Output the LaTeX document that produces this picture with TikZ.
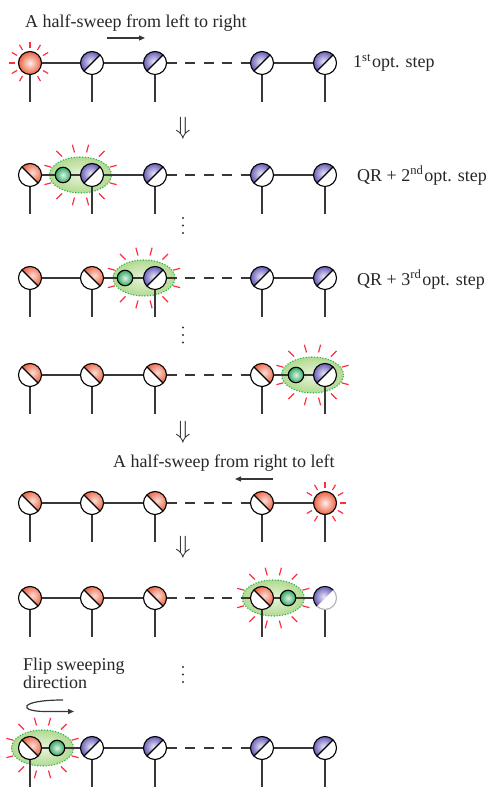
\documentclass[tikz,border=0pt]{standalone}
\usepackage{fontspec}
\setmainfont{Liberation Serif}
\usetikzlibrary{calc,arrows.meta}
\pgfdeclarelayer{bgA}\pgfdeclarelayer{bgB}
\pgfsetlayers{bgA,bgB,main}
\definecolor{orgC}{RGB}{236,98,64}
\definecolor{bluC}{RGB}{88,78,178}
\definecolor{grnC}{RGB}{50,168,98}
\definecolor{rayC}{RGB}{255,45,65}
\definecolor{lineC}{RGB}{55,55,55}
\definecolor{ellIn}{RGB}{232,244,220}
\definecolor{ellOut}{RGB}{178,218,145}
\definecolor{ellBd}{RGB}{40,178,80}
\newcommand\halfO{%
  \coordinate (pc) at (path picture bounding box.center);
  \begin{scope}
    \clip ($(pc)+(135:20)$) -- ++(45:20) -- ++(-45:40) -- ++(225:20) -- cycle;
    \shade[inner color=orgC!22!white, outer color=orgC] ($(pc)+(45:3.5)$) circle (11);
  \end{scope}
  \draw[line width=1.1pt] ($(pc)+(135:12)$) -- ($(pc)+(-45:12)$);
}
\newcommand\halfB{%
  \coordinate (pc) at (path picture bounding box.center);
  \begin{scope}
    \clip ($(pc)+(45:20)$) -- ++(135:20) -- ++(225:40) -- ++(315:20) -- cycle;
    \shade[inner color=bluC!14!white, outer color=bluC] ($(pc)+(135:2)$) circle (11.5);
  \end{scope}
}
\newcommand\sparkC[1]{%
  \begin{pgfonlayer}{bgA}
  \foreach \a in {0,30,...,330}{\draw[ray] ($(#1)+(\a:15)$) -- ($(#1)+(\a:21)$);}
  \end{pgfonlayer}}
\newcommand\sparkE[1]{%
  \begin{pgfonlayer}{bgA}
  \foreach \a in {15,45,...,345}{%
    \pgfmathsetmacro\rs{31*23/sqrt((23*cos(\a))^2+(31*sin(\a))^2)}%
    \pgfmathsetmacro\re{38*31/sqrt((31*cos(\a))^2+(38*sin(\a))^2)}%
    \draw[ray] ($(#1)+(\a:\rs)$) -- ($(#1)+(\a:\re)$);}
  \path[shade, inner color=ellIn, outer color=ellOut] (#1) ellipse (31 and 18);
  \draw[ellBd, line width=1.1pt, dash pattern=on 1.2pt off 1.6pt] (#1) ellipse (31 and 18);
  \end{pgfonlayer}}
\newcommand\vdotsAt[1]{%
  \foreach \d in {-7.5,0,7.5}{\fill[black!80] ($(#1)+(0,\d)$) circle (1.05);}}
\tikzset{
  site/.style={circle, draw=black, line width=1.1pt, minimum size=23pt, inner sep=0pt, outer sep=0pt, fill=white},
  osite/.style={site, path picture={\halfO}},
  bsite/.style={site, path picture={\halfB \draw[line width=1.1pt] ($(pc)+(45:12)$) -- ($(pc)+(225:12)$);}},
  fadesite/.style={site, draw=black!30, path picture={\halfB}},
  fsite/.style={circle, draw=black, line width=1.1pt, minimum size=23pt, inner sep=0pt, outer sep=0pt, shade, inner color=orgC!10!white, outer color=orgC},
  gsite/.style={circle, draw=black, line width=1.1pt, minimum size=15.5pt, inner sep=0pt, outer sep=0pt, shade, inner color=grnC!15!white, outer color=grnC},
  ray/.style={draw=rayC, line width=1.2pt},
  chain/.style={draw=lineC, line width=1.1pt},
  dline/.style={chain, dash pattern=on 10pt off 8.5pt},
  txt/.style={font=\fontsize{18}{21}\selectfont, inner sep=0pt, anchor=west, text=black!85},
  sym/.style={font=\fontsize{23}{25}\selectfont, inner sep=0pt, text=black!85},
  arr/.style={draw=lineC, line width=1.2pt, -{Triangle[length=6pt,width=5pt]}}
}
\newcommand\legs[1]{%
  \begin{pgfonlayer}{bgB}
  \foreach \n in {#1}{\draw[chain] (\n.south) -- ++(0,-27.5);}
  \end{pgfonlayer}}
\begin{document}
\begin{tikzpicture}[x=1pt,y=1pt]
\useasboundingbox (0,0) rectangle (491,797);
% ---------- Row 1
\node[txt] (t1) at (25,773.5) {A half-sweep from left to right};
\coordinate (r1s) at (107,759); \coordinate (r1e) at (145,759);
\draw[arr] (r1s) -- (r1e);
\sparkC{30,734}
\node[fsite] (a1) at (30,734) {};
\node[bsite] (a2) at (92,734) {};
\node[bsite] (a3) at (155,734) {};
\node[bsite] (a4) at (262,734) {};
\node[bsite] (a5) at (325,734) {};
\begin{pgfonlayer}{bgB}
\draw[chain] (a1) -- (a2) -- (a3); \draw[dline] (a3) -- (a4); \draw[chain] (a4) -- (a5);
\end{pgfonlayer}
\legs{a1,a2,a3,a4,a5}
\node[txt] (s1) at (353,734) {1\textsuperscript{st}\kern1pt opt. step};
\node[sym] (dn1) at (183,669) {$\Downarrow$};
% ---------- Row 2
\sparkE{80.5,622}
\node[osite] (b1) at (30,622) {};
\node[gsite] (bg) at (63,622) {};
\node[bsite] (b2) at (92,622) {};
\node[bsite] (b3) at (155,622) {};
\node[bsite] (b4) at (262,622) {};
\node[bsite] (b5) at (325,622) {};
\begin{pgfonlayer}{bgB}
\draw[chain] (b1) -- (bg) -- (b2) -- (b3); \draw[dline] (b3) -- (b4); \draw[chain] (b4) -- (b5);
\end{pgfonlayer}
\legs{b1,b2,b3,b4,b5}
\node[txt] (s2) at (357,621.5) {QR + 2\textsuperscript{nd}\kern1pt opt. step};
\coordinate (v1) at (183,571.5); \vdotsAt{v1}
% ---------- Row 3
\sparkE{144,519}
\node[osite] (c1) at (30,519) {};
\node[osite] (c2) at (92,519) {};
\node[gsite] (cg) at (125,519) {};
\node[bsite] (c3) at (155,519) {};
\node[bsite] (c4) at (262,519) {};
\node[bsite] (c5) at (325,519) {};
\begin{pgfonlayer}{bgB}
\draw[chain] (c1) -- (c2) -- (cg) -- (c3); \draw[dline] (c3) -- (c4); \draw[chain] (c4) -- (c5);
\end{pgfonlayer}
\legs{c1,c2,c3,c4,c5}
\node[txt] (s3) at (357,517.5) {QR + 3\textsuperscript{rd}\kern1pt opt. step};
\coordinate (v2) at (183,462); \vdotsAt{v2}
% ---------- Row 4
\sparkE{312.5,422}
\node[osite] (d1) at (30,422) {};
\node[osite] (d2) at (92,422) {};
\node[osite] (d3) at (155,422) {};
\node[osite] (d4) at (262,422) {};
\node[gsite] (dg) at (296,422) {};
\node[bsite] (d5) at (325,422) {};
\begin{pgfonlayer}{bgB}
\draw[chain] (d1) -- (d2) -- (d3); \draw[dline] (d3) -- (d4); \draw[chain] (d4) -- (dg) -- (d5);
\end{pgfonlayer}
\legs{d1,d2,d3,d4,d5}
\node[sym] (dn2) at (183,365) {$\Downarrow$};
% ---------- Row 5
\node[txt] (t2) at (113,333.5) {A half-sweep from right to left};
\coordinate (r2s) at (273,318); \coordinate (r2e) at (235,318);
\draw[arr] (r2s) -- (r2e);
\sparkC{325,294}
\node[osite] (e1) at (30,294) {};
\node[osite] (e2) at (92,294) {};
\node[osite] (e3) at (155,294) {};
\node[osite] (e4) at (262,294) {};
\node[fsite] (e5) at (325,294) {};
\begin{pgfonlayer}{bgB}
\draw[chain] (e1) -- (e2) -- (e3); \draw[dline] (e3) -- (e4); \draw[chain] (e4) -- (e5);
\end{pgfonlayer}
\legs{e1,e2,e3,e4,e5}
\node[sym] (dn3) at (183,250) {$\Downarrow$};
% ---------- Row 6
\sparkE{273.3,199}
\node[osite] (f1) at (30,199) {};
\node[osite] (f2) at (92,199) {};
\node[osite] (f3) at (155,199) {};
\node[osite] (f4) at (262,199) {};
\node[gsite] (fg) at (288,199) {};
\node[fadesite] (f5) at (325,199) {};
\draw[line width=1.1pt] (f5.45) arc[start angle=45, end angle=225, radius=11.5];
\begin{pgfonlayer}{bgB}
\draw[chain] (f1) -- (f2) -- (f3); \draw[dline] (f3) -- (f4); \draw[chain] (f4) -- (fg) -- (f5);
\end{pgfonlayer}
\legs{f1,f2,f3,f4,f5}
% ---------- Flip
\node[txt, anchor=base west] (fl1) at (23,126.3) {Flip sweeping};
\node[txt, anchor=base west] (fl2) at (23,108) {direction};
\coordinate (cs) at (63,97); \coordinate (ce) at (74,85.5);
\draw[arr] (cs) .. controls (18,97) and (18,85.5) .. (45,85.5) -- (ce);
\coordinate (v3) at (183,122.5); \vdotsAt{v3}
% ---------- Row 7
\sparkE{42.5,49}
\node[osite] (g1) at (30,49) {};
\node[gsite] (gg) at (57,49) {};
\node[bsite] (g2) at (92,49) {};
\node[bsite] (g3) at (155,49) {};
\node[bsite] (g4) at (262,49) {};
\node[bsite] (g5) at (325,49) {};
\begin{pgfonlayer}{bgB}
\draw[chain] (g1) -- (gg) -- (g2) -- (g3); \draw[dline] (g3) -- (g4); \draw[chain] (g4) -- (g5);
\end{pgfonlayer}
\legs{g1,g2,g3,g4,g5}
\end{tikzpicture}
\end{document}
